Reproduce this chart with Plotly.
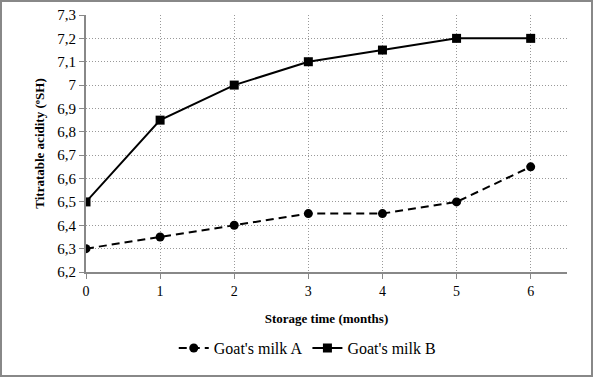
import plotly.graph_objects as go

months = [0, 1, 2, 3, 4, 5, 6]
milk_a = [6.3, 6.35, 6.4, 6.45, 6.45, 6.5, 6.65]
milk_b = [6.5, 6.85, 7.0, 7.1, 7.15, 7.2, 7.2]
y_ticks = [6.2, 6.3, 6.4, 6.5, 6.6, 6.7, 6.8, 6.9, 7.0, 7.1, 7.2, 7.3]
y_labels = ["6,2", "6,3", "6,4", "6,5", "6,6", "6,7", "6,8", "6,9", "7", "7,1", "7,2", "7,3"]

SERIF = "Liberation Serif"
PW, PH = 481, 257

fig = go.Figure()
fig.add_trace(go.Scatter(x=months, y=milk_a, mode="lines+markers", name="Goat's milk A",
                         line=dict(color="black", width=2, dash="8px,5px"),
                         marker=dict(symbol="circle", size=9, color="black")))
fig.add_trace(go.Scatter(x=months, y=milk_b, mode="lines+markers", name="Goat's milk B",
                         line=dict(color="black", width=2),
                         marker=dict(symbol="square", size=9, color="black")))

fig.update_layout(
    width=593, height=377,
    margin=dict(l=86, r=26, t=15, b=105, autoexpand=False),
    paper_bgcolor="white", plot_bgcolor="white",
    font=dict(family=SERIF, color="black", size=13),
    showlegend=True,
    legend=dict(orientation="h", x=0.46, xanchor="center", y=-0.296, yanchor="middle",
                font=dict(size=16, family=SERIF), itemwidth=30),
    xaxis=dict(range=[0, 6.49], tickvals=months, showgrid=True, gridcolor="#999999",
               griddash="1px,2px", gridwidth=1, showline=True, linecolor="#888888", linewidth=2,
               ticks="outside", ticklen=5, tickcolor="#888888", zeroline=False,
               automargin=False,
               title=dict(text="<b>Storage time (months)</b>", font=dict(size=13, family=SERIF), standoff=16),
               tickfont=dict(size=14, family=SERIF)),
    yaxis=dict(range=[6.2, 7.3], tickvals=y_ticks, ticktext=y_labels, showgrid=True,
               gridcolor="#999999", griddash="1px,2px", gridwidth=1, showline=True,
               linecolor="#888888", linewidth=2, ticks="outside", ticklen=5,
               tickcolor="#888888", zeroline=False, automargin=False,
               title=dict(text="<b>Titratable acidity (ºSH)</b>", font=dict(size=13, family=SERIF), standoff=10),
               tickfont=dict(size=15, family=SERIF)),
    shapes=[dict(type="rect", xref="paper", yref="paper", x0=-85/PW, x1=1+25/PW,
                 y0=-104/PH, y1=1+14/PH, line=dict(color="#888888", width=2))],
)

fig.write_html("out.html", config={"displayModeBar": False},
               post_script="document.body.style.margin='0';document.body.style.overflow='hidden';")
